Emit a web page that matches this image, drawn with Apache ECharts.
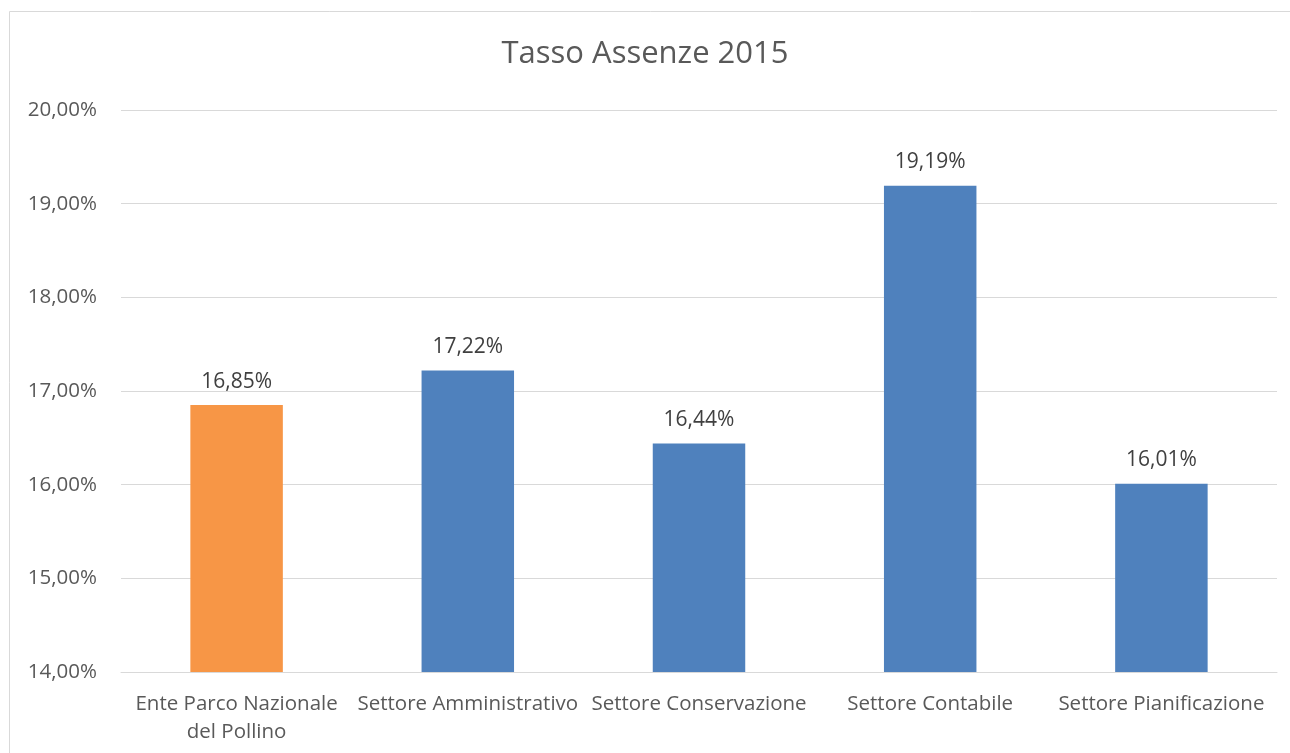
<!DOCTYPE html>
<html>
<head>
<meta charset="utf-8">
<script src="https://cdn.jsdelivr.net/npm/echarts@6/dist/echarts.min.js"></script>
<style>
  html, body { margin: 0; padding: 0; background: #fff; }
  #chart { width: 1290px; height: 753px; }
</style>
</head>
<body>
<div id="chart"></div>
<script>
  // dati del grafico
  var categories = ['Ente Parco Nazionale\ndel Pollino', 'Settore Amministrativo', 'Settore Conservazione', 'Settore Contabile', 'Settore Pianificazione']
  var values = [16.85, 17.22, 16.44, 19.19, 16.01]
  var barColors = ['#F79646', '#4F81BD', '#4F81BD', '#4F81BD', '#4F81BD']
  var yMin = 14
  var yMax = 20
  var yStep = 1

  var font = '"Open Sans", "Noto Sans", sans-serif'
  var fmt = function (v) { return v.toFixed(2).replace('.', ',') + '%' }

  var chart = echarts.init(document.getElementById('chart'))
  chart.setOption({
    animation: false,
    textStyle: { fontFamily: font },
    graphic: [{
      type: 'rect',
      shape: { x: 9.5, y: 11.5, width: 1300, height: 760 },
      style: { fill: 'none', stroke: '#d9d9d9', lineWidth: 1 },
      silent: true
    }],
    title: {
      text: 'Tasso Assenze 2015',
      left: 'center',
      top: 34,
      textStyle: { fontFamily: font, fontSize: 31, fontWeight: 'normal', color: '#595959' }
    },
    grid: { left: 121, right: 13, top: 110, bottom: 81 },
    xAxis: {
      type: 'category',
      data: categories,
      axisLine: { lineStyle: { color: '#d9d9d9' } },
      axisTick: { show: false },
      axisLabel: {
        interval: 0,
        margin: 18,
        fontSize: 20.5,
        lineHeight: 28,
        color: '#595959',
        fontFamily: font
      }
    },
    yAxis: {
      type: 'value',
      min: yMin,
      max: yMax,
      interval: yStep,
      axisLine: { show: false },
      axisTick: { show: false },
      splitLine: { lineStyle: { color: '#d9d9d9' } },
      axisLabel: {
        margin: 24,
        fontSize: 20.5,
        color: '#595959',
        fontFamily: font,
        formatter: fmt
      }
    },
    series: [{
      type: 'bar',
      barWidth: '40%',
      data: values.map(function (v, i) {
        return { value: v, itemStyle: { color: barColors[i] } }
      }),
      label: {
        show: true,
        position: 'top',
        distance: 13,
        fontSize: 21,
        color: '#404040',
        fontFamily: font,
        formatter: function (p) { return fmt(p.value) }
      }
    }]
  })
</script>
</body>
</html>
